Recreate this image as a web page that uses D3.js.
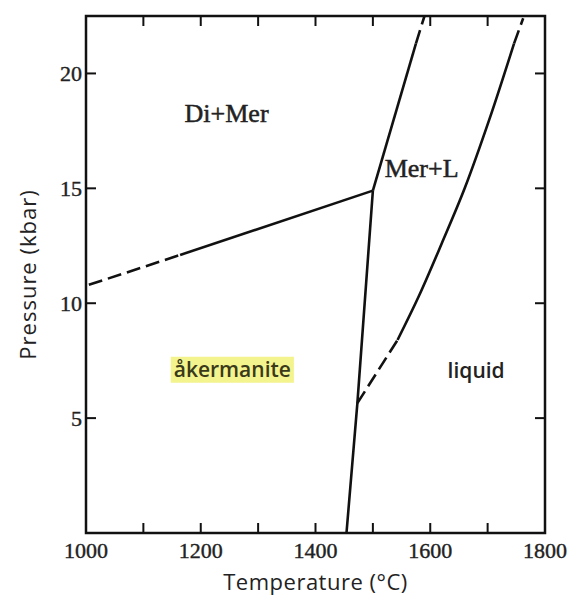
<!DOCTYPE html>
<html>
  <head>
    <meta charset="utf-8">
    <title>Akermanite phase diagram</title>
    <script src="https://d3js.org/d3.v7.min.js"></script>
    <style>
      body { margin: 0; background: #fff; }
      .tick_label { font-family: "Liberation Serif", serif; font-size: 22px; fill: #222; stroke: #222; stroke-width: 0.4px; }
      .axis_title { font-family: "Open Sans", sans-serif; font-size: 22px; fill: #222; }
    </style>
  </head>
  <body>
    <div id="graph"></div>
  </body>

  <script>
    // Tick values
    const x_labels = [1000, 1200, 1400, 1600, 1800];
    const x_minor = [1100, 1200, 1300, 1400, 1500, 1600, 1700];
    const y_labels = [5, 10, 15, 20];

    // Phase boundaries, [temperature (°C), pressure (kbar)]
    const dimer_dashed = [[1005, 10.8], [1164, 12.1]];
    const dimer_solid = [[1164, 12.1], [1500, 14.9]];
    const aker_solid = [[1454, 0], [1473, 5.65], [1500, 14.9]];
    const merl_solid = [[1500, 14.9], [1575, 21.3]];
    const merl_dashed = [[1575, 21.3], [1590, 22.5]];
    const liq_low_dashed = [[1473, 5.65], [1543, 8.4]];
    const liq_solid = [[1543, 8.4], [1580, 10.3], [1620, 12.6], [1660, 15.0], [1703, 18.0], [1746, 21.3]];
    const liq_top_dashed = [[1746, 21.3], [1762, 22.4]];

    // Field labels
    const fields = [
      {name: "Di+Mer", t: 1245, p: 17.9, serif: true},
      {name: "Mer+L", t: 1585, p: 15.5, serif: true},
      {name: "åkermanite", t: 1255, p: 6.8, serif: false, highlight: true},
      {name: "liquid", t: 1680, p: 6.75, serif: false}
    ];

    const width = 570;
    const height = 597;
    const margin = ({top: 16, right: 25, bottom: 64, left: 86});

    let svg = d3.select("#graph").append("svg")
      .attr("width", width)
      .attr("height", height);

    let x = d3.scaleLinear()
      .domain([1000, 1800])
      .range([margin.left, width - margin.right]);
    let y = d3.scaleLinear()
      .domain([0, 22.5])
      .range([height - margin.bottom, margin.top]);

    const ink = "#111";

    // Frame
    svg.append("rect")
      .attr("x", x(1000))
      .attr("y", y(22.5))
      .attr("width", x(1800) - x(1000))
      .attr("height", y(0) - y(22.5))
      .attr("fill", "none")
      .attr("stroke", ink)
      .attr("stroke-width", 2.5);

    // Inward ticks on all four sides
    const tick_len = 10;
    svg.append("g").selectAll("line").data(x_minor).enter().append("line")
      .attr("x1", d => x(d)).attr("x2", d => x(d))
      .attr("y1", y(0)).attr("y2", y(0) - tick_len)
      .attr("stroke", ink).attr("stroke-width", 2);
    svg.append("g").selectAll("line").data(x_minor).enter().append("line")
      .attr("x1", d => x(d)).attr("x2", d => x(d))
      .attr("y1", y(22.5)).attr("y2", y(22.5) + tick_len)
      .attr("stroke", ink).attr("stroke-width", 2);
    svg.append("g").selectAll("line").data(y_labels).enter().append("line")
      .attr("x1", x(1000)).attr("x2", x(1000) + tick_len)
      .attr("y1", d => y(d)).attr("y2", d => y(d))
      .attr("stroke", ink).attr("stroke-width", 2);
    svg.append("g").selectAll("line").data(y_labels).enter().append("line")
      .attr("x1", x(1800)).attr("x2", x(1800) - tick_len)
      .attr("y1", d => y(d)).attr("y2", d => y(d))
      .attr("stroke", ink).attr("stroke-width", 2);

    // Tick labels
    svg.append("g").selectAll("text").data(x_labels).enter().append("text")
      .attr("class", "tick_label")
      .attr("x", d => x(d))
      .attr("y", y(0) + 25)
      .style("text-anchor", "middle")
      .text(d => d);
    svg.append("g").selectAll("text").data(y_labels).enter().append("text")
      .attr("class", "tick_label")
      .attr("x", x(1000) - 4)
      .attr("y", d => y(d) + 8)
      .style("text-anchor", "end")
      .text(d => d);

    // Axis titles
    svg.append("text")
      .attr("class", "axis_title")
      .attr("x", (x(1000) + x(1800)) / 2)
      .attr("y", 590)
      .style("text-anchor", "middle")
      .style("letter-spacing", "0.5px")
      .text("Temperature (°C)");
    svg.append("text")
      .attr("class", "axis_title")
      .attr("transform", `translate(36, ${(y(0) + y(22.5)) / 2}) rotate(-90)`)
      .style("text-anchor", "middle")
      .style("letter-spacing", "1px")
      .text("Pressure (kbar)");

    // Boundaries
    const straight = d3.line().x(d => x(d[0])).y(d => y(d[1]));
    const curved = d3.line().x(d => x(d[0])).y(d => y(d[1])).curve(d3.curveCatmullRom);
    const draw = (data, gen, dashed) => {
      svg.append("path")
        .datum(data)
        .attr("d", gen)
        .attr("fill", "none")
        .attr("stroke", ink)
        .attr("stroke-width", 2.6)
        .attr("stroke-dasharray", dashed ? "14,6" : null);
    };
    draw(dimer_dashed, straight, true);
    draw(dimer_solid, straight, false);
    draw(aker_solid, straight, false);
    draw(merl_solid, straight, false);
    draw(merl_dashed, straight, true);
    draw(liq_low_dashed, straight, true);
    draw(liq_solid, curved, false);
    draw(liq_top_dashed, straight, true);

    // Field labels
    let labels = svg.append("g");
    fields.forEach(f => {
      let t = labels.append("text")
        .attr("x", x(f.t))
        .attr("y", y(f.p))
        .style("text-anchor", "middle")
        .style("font-family", f.serif ? "'Liberation Serif', serif" : "'Open Sans', sans-serif")
        .style("font-size", f.serif ? "26px" : "21px")
        .style("font-weight", f.serif ? "normal" : "600")
        .style("fill", f.highlight ? "#3a3a1a" : "#222")
        .style("stroke", f.serif ? "#222" : null)
        .style("stroke-width", f.serif ? "0.5px" : null)
        .text(f.name);
      if (f.highlight) {
        const b = t.node().getBBox();
        labels.insert("rect", "text")
          .attr("x", b.x - 3)
          .attr("y", b.y + 2)
          .attr("width", b.width + 6)
          .attr("height", b.height - 2)
          .attr("fill", "#f4f48e");
      }
    });
  </script>
</html>
